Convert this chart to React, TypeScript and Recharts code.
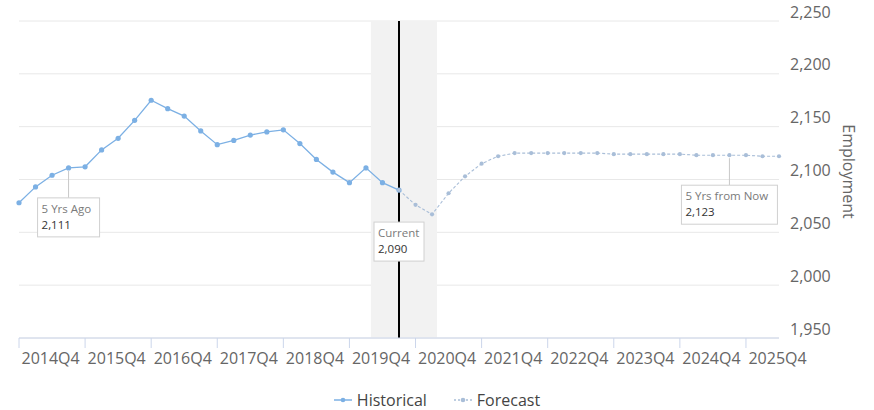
import { LineChart, Line, XAxis, YAxis, CartesianGrid, ReferenceArea, ReferenceLine } from "recharts"

// quarterly employment, thousands
const quarters = [
  "2014Q4",
  "2015Q1", "2015Q2", "2015Q3", "2015Q4",
  "2016Q1", "2016Q2", "2016Q3", "2016Q4",
  "2017Q1", "2017Q2", "2017Q3", "2017Q4",
  "2018Q1", "2018Q2", "2018Q3", "2018Q4",
  "2019Q1", "2019Q2", "2019Q3", "2019Q4",
  "2020Q1", "2020Q2", "2020Q3", "2020Q4",
  "2021Q1", "2021Q2", "2021Q3", "2021Q4",
  "2022Q1", "2022Q2", "2022Q3", "2022Q4",
  "2023Q1", "2023Q2", "2023Q3", "2023Q4",
  "2024Q1", "2024Q2", "2024Q3", "2024Q4",
  "2025Q1", "2025Q2", "2025Q3", "2025Q4",
  "2026Q1", "2026Q2",
]

const historical = [
  2078, 2093, 2104, 2111, 2112, 2128, 2139, 2156, 2175, 2167, 2160, 2146,
  2133, 2137, 2142, 2145, 2147, 2134, 2119, 2107, 2097, 2111, 2097, 2090,
]

// forecast picks up from the last historical quarter
const forecastFrom = "2020Q3"
const forecast = [
  2090, 2076, 2067, 2087, 2103, 2115, 2122, 2125, 2125, 2125, 2125, 2125,
  2125, 2124, 2124, 2124, 2124, 2124, 2123, 2123, 2123, 2123, 2122, 2122,
]

const xTickLabels = [
  "2014Q4", "2015Q4", "2016Q4", "2017Q4", "2018Q4", "2019Q4",
  "2020Q4", "2021Q4", "2022Q4", "2023Q4", "2024Q4", "2025Q4",
]

const yTicks = [1950, 2000, 2050, 2100, 2150, 2200, 2250]

const notes = [
  { at: "2015Q3", title: "5 Yrs Ago", series: "hist" },
  { at: "2020Q3", title: "Current", series: "hist" },
  { at: "2025Q3", title: "5 Yrs from Now", series: "fcst" },
]

const fcstStart = quarters.indexOf(forecastFrom)
const data = quarters.map((quarter, i) => ({
  i,
  quarter,
  hist: i < historical.length ? historical[i] : null,
  fcst: i >= fcstStart ? forecast[i - fcstStart] : null,
}))

const currentIdx = quarters.indexOf(forecastFrom)

// box sizes for the callouts
const noteBox: Record<string, { w: number; dy: number; link: boolean }> = {
  "5 Yrs Ago": { w: 62, dy: 30, link: true },
  Current: { w: 50, dy: 32, link: false },
  "5 Yrs from Now": { w: 96, dy: 30, link: true },
}

const FONT = "'Open Sans', sans-serif"
const fmt = (v: number) => v.toLocaleString("en-US")

const noteRenderer = (series: string) => (props: any) => {
  const note = notes.find((n) => n.series === series && quarters.indexOf(n.at) === props.index)
  if (!note || props.value == null) return null
  const x = props.x ?? props.viewBox?.x
  const y = props.y ?? props.viewBox?.y
  const box = noteBox[note.title]
  const top = y + box.dy
  const left = x - box.w / 2
  return (
    <g key={`note-${note.at}`}>
      {box.link && <line x1={x} y1={y + 3} x2={x} y2={top} stroke="#c8c8c8" strokeWidth={1} />}
      <rect x={left} y={top} width={box.w} height={39} fill="#fff" stroke="#d0d0d0" strokeWidth={1} />
      <text x={left + 4} y={top + 15} fontSize={11.5} fill="#7a7a7a" fontFamily={FONT}>
        {note.title}
      </text>
      <text x={left + 4} y={top + 31} fontSize={11.5} fill="#333" fontFamily={FONT}>
        {fmt(props.value)}
      </text>
    </g>
  )
}

const XTick = (props: any) => {
  const { x, y, payload } = props
  return (
    <text x={x + 2.5} y={y + 14} textAnchor="start" fontSize={16} fill="#666" fontFamily={FONT}>
      {quarters[payload.value]}
    </text>
  )
}

const YTick = (props: any) => {
  const { x, y, payload } = props
  return (
    <text x={x} y={y - 3.5} textAnchor="start" fontSize={16} fill="#666" fontFamily={FONT}>
      {fmt(payload.value)}
    </text>
  )
}

const AxisTitle = (props: any) => {
  const { x, y, width, height } = props.viewBox
  const cx = x + width - 25
  const cy = y + height / 2 - 8
  return (
    <text
      x={cx}
      y={cy}
      transform={`rotate(90 ${cx} ${cy})`}
      textAnchor="middle"
      dominantBaseline="central"
      fontSize={16}
      fill="#666"
      fontFamily={FONT}
    >
      Employment
    </text>
  )
}

const LegendIcon = ({ color, dashed }: { color: string; dashed?: boolean }) => (
  <svg width={18} height={10} style={{ marginRight: 5 }}>
    <line x1={0} y1={5} x2={18} y2={5} stroke={color} strokeWidth={1.5} strokeDasharray={dashed ? "2 2" : undefined} />
    <circle cx={9} cy={5} r={2.3} fill={color} />
  </svg>
)

export default function App() {
  const xTicks = xTickLabels.map((q) => quarters.indexOf(q))
  return (
    <div style={{ position: "absolute", left: 0, top: 0, width: 874, height: 410, fontFamily: FONT, background: "#fff" }}>
      <LineChart width={874} height={410} data={data} margin={{ top: 21, right: 0, left: 19, bottom: 0 }}>
        <ReferenceArea x1={21.3} x2={25.3} fill="#f2f2f2" fillOpacity={1} stroke="none" />
        <CartesianGrid vertical={false} stroke="#e8e8e8" />
        <ReferenceLine x={currentIdx} stroke="#000" strokeWidth={2} />
        <XAxis
          dataKey="i"
          type="number"
          domain={[0, quarters.length - 1]}
          ticks={xTicks}
          interval={0}
          height={72}
          axisLine={{ stroke: "#ccd6eb" }}
          tickLine={{ stroke: "#ccd6eb" }}
          tickSize={10}
          tick={<XTick />}
        />
        <YAxis
          orientation="right"
          width={95}
          domain={[1950, 2250]}
          ticks={yTicks}
          interval={0}
          axisLine={false}
          tickLine={false}
          tickSize={0}
          tickMargin={11}
          tick={<YTick />}
          label={<AxisTitle />}
        />
        <Line
          dataKey="hist"
          stroke="#7cb0e4"
          strokeWidth={1.3}
          dot={{ r: 2.6, fill: "#7cb0e4", stroke: "none" }}
          activeDot={false}
          isAnimationActive={false}
          connectNulls={false}
          label={noteRenderer("hist")}
        />
        <Line
          dataKey="fcst"
          stroke="#a9bed8"
          strokeWidth={1.1}
          strokeDasharray="3 2"
          dot={{ r: 2.1, fill: "#a9bed8", stroke: "none" }}
          activeDot={false}
          isAnimationActive={false}
          connectNulls={false}
          label={noteRenderer("fcst")}
        />
      </LineChart>
      <div
        style={{
          position: "absolute",
          top: 390,
          left: 0,
          width: 874,
          display: "flex",
          justifyContent: "center",
          alignItems: "center",
          fontSize: 16,
          color: "#444",
          lineHeight: "20px",
        }}
      >
        <span style={{ display: "flex", alignItems: "center", marginRight: 27 }}>
          <LegendIcon color="#7cb0e4" />
          Historical
        </span>
        <span style={{ display: "flex", alignItems: "center" }}>
          <LegendIcon color="#a9bed8" dashed />
          Forecast
        </span>
      </div>
    </div>
  )
}
